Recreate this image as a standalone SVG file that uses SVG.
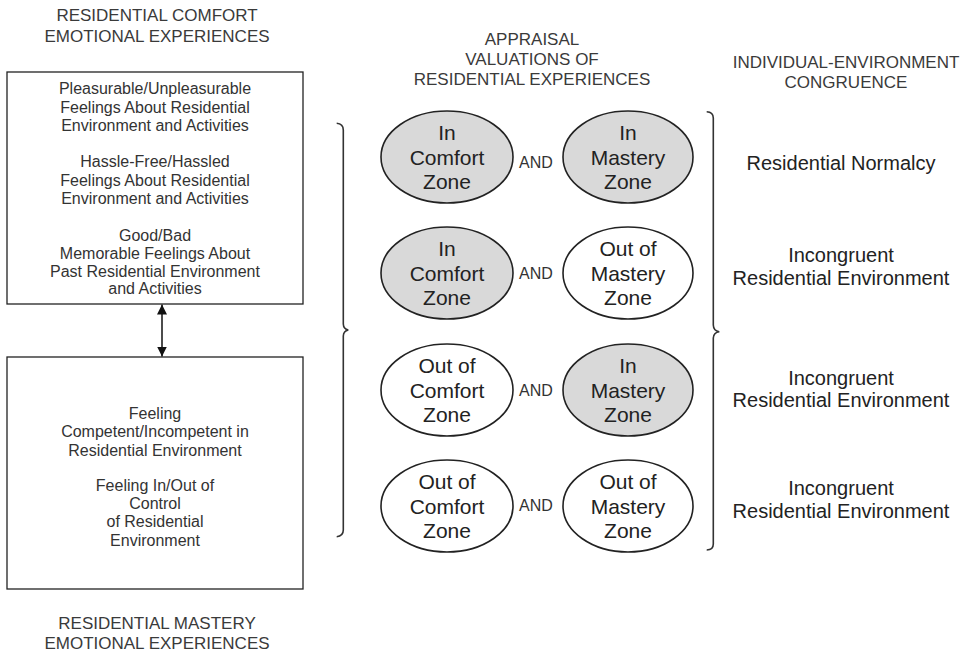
<svg xmlns="http://www.w3.org/2000/svg" width="966" height="654" viewBox="0 0 966 654">
<defs>
<style>
text{font-family:"Liberation Sans",Arial,sans-serif;text-anchor:middle}
.h{font-size:17px;fill:#3a3a3a}
.b{font-size:16px;fill:#333}
.e{font-size:21px;fill:#222}
.a{font-size:16px;fill:#333}
.r{font-size:20px;fill:#222}
.box{fill:#fff;stroke:#222;stroke-width:1.3}
.on{fill:#d9d9d9;stroke:#222;stroke-width:1.6}
.off{fill:#fff;stroke:#222;stroke-width:1.6}
.br{fill:none;stroke:#333;stroke-width:1.6}
</style>
<marker id="ah" viewBox="0 0 10 10" refX="10" refY="5" markerWidth="10" markerHeight="10" markerUnits="userSpaceOnUse" orient="auto-start-reverse">
<path d="M0,0 L10,5 L0,10 z" fill="#111"/>
</marker>
</defs>
<rect width="966" height="654" fill="#fff"/>

<g id="headings">
<text class="h" x="157" y="21">RESIDENTIAL COMFORT</text>
<text class="h" x="157" y="42">EMOTIONAL EXPERIENCES</text>
<text class="h" x="157" y="629">RESIDENTIAL MASTERY</text>
<text class="h" x="157" y="649">EMOTIONAL EXPERIENCES</text>
<text class="h" x="532" y="44.5">APPRAISAL</text>
<text class="h" x="532" y="64.5">VALUATIONS OF</text>
<text class="h" x="532" y="84.5">RESIDENTIAL EXPERIENCES</text>
<text class="h" x="846" y="68">INDIVIDUAL-ENVIRONMENT</text>
<text class="h" x="846" y="88">CONGRUENCE</text>
</g>

<g id="comfort-box">
<rect class="box" x="7" y="72" width="296" height="232"/>
<text class="b" x="155" y="94">Pleasurable/Unpleasurable</text>
<text class="b" x="155" y="112.5">Feelings About Residential</text>
<text class="b" x="155" y="130.5">Environment and Activities</text>
<text class="b" x="155" y="167">Hassle-Free/Hassled</text>
<text class="b" x="155" y="185.5">Feelings About Residential</text>
<text class="b" x="155" y="203.5">Environment and Activities</text>
<text class="b" x="155" y="240.5">Good/Bad</text>
<text class="b" x="155" y="258.5">Memorable Feelings About</text>
<text class="b" x="155" y="277">Past Residential Environment</text>
<text class="b" x="155" y="294">and Activities</text>
</g>

<g id="mastery-box">
<rect class="box" x="7" y="357" width="296" height="232"/>
<text class="b" x="155" y="419">Feeling</text>
<text class="b" x="155" y="437">Competent/Incompetent in</text>
<text class="b" x="155" y="455.5">Residential Environment</text>
<text class="b" x="155" y="491">Feeling In/Out of</text>
<text class="b" x="155" y="509">Control</text>
<text class="b" x="155" y="527">of Residential</text>
<text class="b" x="155" y="545.5">Environment</text>
</g>

<g id="connectors">
<line x1="162" y1="304.5" x2="162" y2="356.5" stroke="#111" stroke-width="1.5" marker-start="url(#ah)" marker-end="url(#ah)"/>
<path class="br" d="M336.7,123.3 Q343.3,124 343.3,130 L343.3,324 Q343.5,329 348.3,330 Q343.5,331 343.3,336 L343.3,530 Q343.3,536 336.7,536.7"/>
<path class="br" d="M706.7,111.7 Q713.3,112 713.3,118 L713.3,325 Q713.5,331 719.3,331.7 Q713.5,332.5 713.3,338 L713.3,544 Q713.3,550 706.7,550"/>
</g>

<g id="row1">
<ellipse class="on" cx="447" cy="157" rx="66" ry="46"/>
<text class="e" x="447" y="140">In</text>
<text class="e" x="447" y="164.5">Comfort</text>
<text class="e" x="447" y="188.5">Zone</text>
<text class="a" x="536" y="167.5">AND</text>
<ellipse class="on" cx="628" cy="157" rx="65" ry="46"/>
<text class="e" x="628" y="140">In</text>
<text class="e" x="628" y="164.5">Mastery</text>
<text class="e" x="628" y="188.5">Zone</text>
<text class="r" x="841" y="170">Residential Normalcy</text>
</g>

<g id="row2">
<ellipse class="on" cx="447" cy="273" rx="66" ry="46"/>
<text class="e" x="447" y="256">In</text>
<text class="e" x="447" y="280.5">Comfort</text>
<text class="e" x="447" y="304.5">Zone</text>
<text class="a" x="536" y="278.5">AND</text>
<ellipse class="off" cx="628" cy="273" rx="65" ry="46"/>
<text class="e" x="628" y="256">Out of</text>
<text class="e" x="628" y="280.5">Mastery</text>
<text class="e" x="628" y="304.5">Zone</text>
<text class="r" x="841" y="262">Incongruent</text>
<text class="r" x="841" y="285">Residential Environment</text>
</g>

<g id="row3">
<ellipse class="off" cx="447" cy="390" rx="66" ry="46"/>
<text class="e" x="447" y="373">Out of</text>
<text class="e" x="447" y="397.5">Comfort</text>
<text class="e" x="447" y="421.5">Zone</text>
<text class="a" x="536" y="396">AND</text>
<ellipse class="on" cx="628" cy="390" rx="65" ry="46"/>
<text class="e" x="628" y="373">In</text>
<text class="e" x="628" y="397.5">Mastery</text>
<text class="e" x="628" y="421.5">Zone</text>
<text class="r" x="841" y="385">Incongruent</text>
<text class="r" x="841" y="407">Residential Environment</text>
</g>

<g id="row4">
<ellipse class="off" cx="447" cy="506" rx="66" ry="46"/>
<text class="e" x="447" y="489">Out of</text>
<text class="e" x="447" y="513.5">Comfort</text>
<text class="e" x="447" y="537.5">Zone</text>
<text class="a" x="536" y="511">AND</text>
<ellipse class="off" cx="628" cy="506" rx="65" ry="46"/>
<text class="e" x="628" y="489">Out of</text>
<text class="e" x="628" y="513.5">Mastery</text>
<text class="e" x="628" y="537.5">Zone</text>
<text class="r" x="841" y="495">Incongruent</text>
<text class="r" x="841" y="517.5">Residential Environment</text>
</g>
</svg>
